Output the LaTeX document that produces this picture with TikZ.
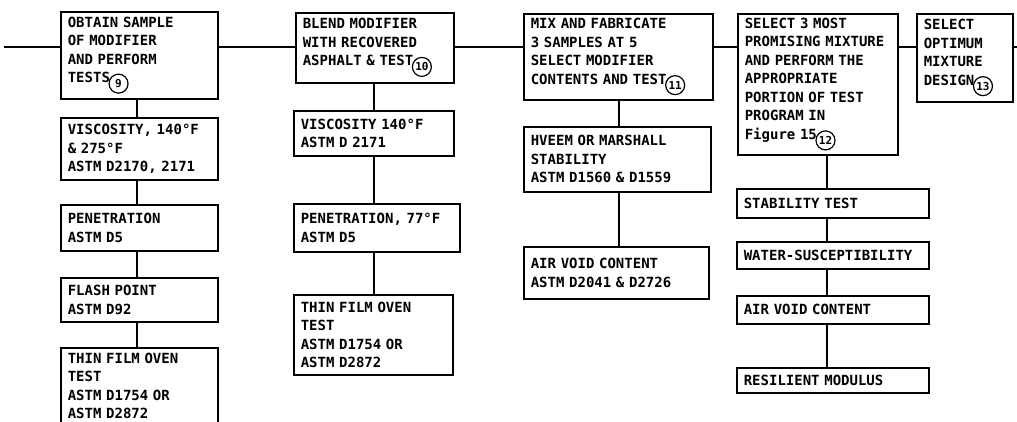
\documentclass[tikz,border=0pt]{standalone}
\usepackage{fontspec}
\newfontfamily\machine{DejaVu Sans Mono}

% numéro entouré (renvoi)
\newcommand{\rond}[1]{\hspace{-1.5pt}\raisebox{-11pt}{\tikz\node[draw, circle, line width=1.2pt, inner sep=0pt, minimum size=19pt, text width={}, align=center, font=\machine\bfseries\fontsize{11}{11}\selectfont]{#1};}}

\tikzset{
  boite/.style 2 args={draw, line width=1.6pt, anchor=north west, align=left,
    inner xsep=7pt, inner ysep=2pt, text width=#1pt, minimum height=#2pt,
    font=\machine\bfseries\fontsize{14}{18.5}\selectfont},
  lien/.style={line width=1.6pt}
}

\begin{document}
\begin{tikzpicture}[x=1pt, y=-1pt]
  \useasboundingbox (0,0) rectangle (1017,421);

  % --- LIGNE PRINCIPALE ---
  \coordinate (gauche) at (4,47);
  \coordinate (droite) at (1017,47);

  % --- COLONNE 1 : ÉCHANTILLON ---
  \coordinate (axe1) at (137,0);
  \node[boite={143}{87}] (obtenir) at (60,11) {OBTAIN SAMPLE\\OF MODIFIER\\AND PERFORM\\TESTS\rond{9}};
  \node[boite={143}{62}] (visco1) at (60,117) {VISCOSITY, 140°F\\\& 275°F\\ASTM D2170, 2171};
  \node[boite={143}{46}] (penet1) at (60,204) {PENETRATION\\ASTM D5};
  \node[boite={143}{44}] (flash1) at (60,277) {FLASH POINT\\ASTM D92};
  \node[boite={143}{76}] (four1) at (60,347) {THIN FILM OVEN\\TEST\\ASTM D1754 OR\\ASTM D2872};

  \draw[lien] (obtenir.south -| axe1) -- (visco1.north -| axe1);
  \draw[lien] (visco1.south -| axe1) -- (penet1.north -| axe1);
  \draw[lien] (penet1.south -| axe1) -- (flash1.north -| axe1);
  \draw[lien] (flash1.south -| axe1) -- (four1.north -| axe1);

  % --- COLONNE 2 : MÉLANGE AU LIANT ---
  \coordinate (axe2) at (374,0);
  \node[boite={144}{70}] (melange) at (295,12) {BLEND MODIFIER\\WITH RECOVERED\\ASPHALT \& TEST\rond{10}};
  \node[boite={146}{45}] (visco2) at (293,110) {VISCOSITY 140°F\\ASTM D 2171};
  \node[boite={152}{48}] (penet2) at (293,203) {PENETRATION, 77°F\\ASTM D5};
  \node[boite={145}{80}] (four2) at (293,294) {THIN FILM OVEN\\TEST\\ASTM D1754 OR\\ASTM D2872};

  \draw[lien] (melange.south -| axe2) -- (visco2.north -| axe2);
  \draw[lien] (visco2.south -| axe2) -- (penet2.north -| axe2);
  \draw[lien] (penet2.south -| axe2) -- (four2.north -| axe2);

  % --- COLONNE 3 : FABRICATION ---
  \coordinate (axe3) at (619,0);
  \node[boite={175}{86}] (fabriquer) at (523,13) {MIX AND FABRICATE\\3 SAMPLES AT 5\\SELECT MODIFIER\\CONTENTS AND TEST\rond{11}};
  \node[boite={173}{65}] (hveem) at (523,126) {HVEEM OR MARSHALL\\STABILITY\\ASTM D1560 \& D1559};
  \node[boite={171}{52}] (vides3) at (523,246) {AIR VOID CONTENT\\ASTM D2041 \& D2726};

  \draw[lien] (fabriquer.south -| axe3) -- (hveem.north -| axe3);
  \draw[lien] (hveem.south -| axe3) -- (vides3.north -| axe3);

  % --- COLONNE 4 : SÉLECTION ---
  \coordinate (axe4) at (827,0);
  \node[boite={146}{141}] (choisir) at (737,13) {SELECT 3 MOST\\PROMISING MIXTURE\\AND PERFORM THE\\APPROPRIATE\\PORTION OF TEST\\PROGRAM IN\\Figure 15\rond{12}};
  \node[boite={178}{29}] (stab) at (736,188) {STABILITY TEST};
  \node[boite={178}{27}] (eau) at (736,241) {WATER-SUSCEPTIBILITY};
  \node[boite={178}{28}] (vides4) at (736,295) {AIR VOID CONTENT};
  \node[boite={178}{25}] (module) at (736,367) {RESILIENT MODULUS};

  \draw[lien] (choisir.south -| axe4) -- (stab.north -| axe4);
  \draw[lien] (stab.south -| axe4) -- (eau.north -| axe4);
  \draw[lien] (eau.south -| axe4) -- (vides4.north -| axe4);
  \draw[lien] (vides4.south -| axe4) -- (module.north -| axe4);

  % --- COLONNE 5 : FORMULE OPTIMALE ---
  \node[boite={82}{88}] (optimum) at (916,13) {SELECT\\OPTIMUM\\MIXTURE\\DESIGN\rond{13}};

  % Liaisons horizontales
  \draw[lien] (gauche) -- (obtenir.west |- gauche);
  \draw[lien] (obtenir.east |- gauche) -- (melange.west |- gauche);
  \draw[lien] (melange.east |- gauche) -- (fabriquer.west |- gauche);
  \draw[lien] (fabriquer.east |- gauche) -- (choisir.west |- gauche);
  \draw[lien] (choisir.east |- gauche) -- (optimum.west |- gauche);
  \draw[lien] (optimum.east |- gauche) -- (droite);
\end{tikzpicture}
\end{document}
